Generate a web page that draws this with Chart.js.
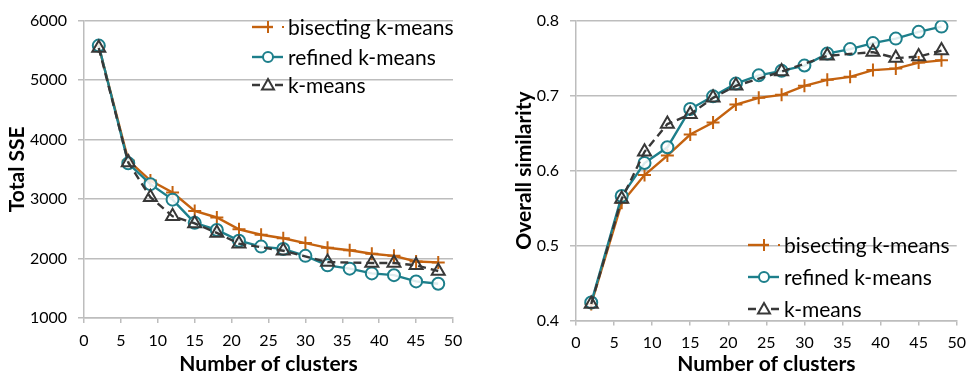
<!DOCTYPE html>
<html>
<head>
<meta charset="utf-8">
<script src="https://cdn.jsdelivr.net/npm/chart.js@4/dist/chart.umd.min.js"></script>
<style>
  html, body { margin: 0; padding: 0; background: #ffffff; }
  #wrap { width: 974px; height: 380px; display: flex; }
  canvas { display: block; }
</style>
</head>
<body>
<div id="wrap">
  <canvas id="left" width="487" height="380"></canvas>
  <canvas id="right" width="487" height="380"></canvas>
</div>
<script>
// ---- data ----
const seriesNames = ['bisecting k-means', 'refined k-means', 'k-means'];
const clusters = [2, 6, 9, 12, 15, 18, 21, 24, 27, 30, 33, 36, 39, 42, 45, 48];
const kmeansClusters = [2, 6, 9, 12, 15, 18, 21, 27, 33, 39, 42, 45, 48];

const sseBisecting = [5570, 3650, 3310, 3110, 2800, 2690, 2490, 2400, 2340, 2260, 2180, 2140, 2080, 2045, 1950, 1935];
const sseRefined   = [5580, 3600, 3250, 2990, 2600, 2480, 2300, 2200, 2160, 2045, 1885, 1830, 1750, 1720, 1615, 1575];
const sseKmeans    = [5540, 3615, 3030, 2710, 2590, 2430, 2250, 2130, 1940, 1925, 1925, 1885, 1790];

const simBisecting = [0.422, 0.557, 0.594, 0.620, 0.648, 0.664, 0.688, 0.697, 0.701, 0.713, 0.721, 0.725, 0.734, 0.736, 0.744, 0.747];
const simRefined   = [0.424, 0.566, 0.610, 0.631, 0.682, 0.699, 0.716, 0.727, 0.733, 0.740, 0.756, 0.762, 0.770, 0.776, 0.785, 0.792];
const simKmeans    = [0.422, 0.562, 0.625, 0.662, 0.675, 0.697, 0.713, 0.732, 0.753, 0.758, 0.750, 0.752, 0.760];

const xTicks = [0, 5, 10, 15, 20, 25, 30, 35, 40, 45, 50];
const sseTicks = [1000, 2000, 3000, 4000, 5000, 6000];
const simTicks = [0.4, 0.5, 0.6, 0.7, 0.8];

// ---- styles ----
const ORANGE = '#C4620F';
const TEAL = '#1D7F8B';
const GRAY = '#383838';
const GRID = '#BDBDBD';
const TEXT = '#000';
const FONT = 'Lato, "Open Sans", sans-serif';

Chart.defaults.font.family = FONT;
Chart.defaults.color = TEXT;

function pts(xs, ys) { return xs.map((x, i) => ({ x: x, y: ys[i] })); }

function datasets(b, r, k) {
  return [
    { label: seriesNames[0], data: pts(clusters, b), borderColor: ORANGE, backgroundColor: ORANGE,
      borderWidth: 2.4, pointStyle: 'cross', pointRadius: 6.5, pointBorderWidth: 2, pointBorderColor: ORANGE,
      order: 2, tension: 0 },
    { label: seriesNames[1], data: pts(clusters, r), borderColor: TEAL, backgroundColor: 'rgba(255,255,255,0)',
      borderWidth: 2.4, pointStyle: 'circle', pointRadius: 6, pointBorderWidth: 2, pointBorderColor: TEAL,
      pointBackgroundColor: 'rgba(255,255,255,0.85)', order: 1, tension: 0 },
    { label: seriesNames[2], data: pts(kmeansClusters, k), borderColor: GRAY, backgroundColor: 'rgba(0,0,0,0)',
      borderWidth: 2.4, borderDash: [8, 5], pointStyle: 'triangle', pointRadius: 7.5, pointBorderWidth: 2,
      pointBorderColor: GRAY, pointBackgroundColor: 'rgba(255,255,255,0)', order: 0, tension: 0 }
  ];
}

const legendPlugin = {
  id: 'insideLegend',
  afterDraw(chart, args, opts) {
    const ctx = chart.ctx;
    ctx.save();
    ctx.font = '21px ' + FONT;
    ctx.textBaseline = 'middle';
    const x0 = opts.x, cx = opts.x + 16, x1 = opts.x + 31;
    opts.ys.forEach((y, i) => {
      ctx.lineWidth = 2.4;
      ctx.setLineDash([]);
      if (i === 0) {
        ctx.strokeStyle = ORANGE;
        ctx.beginPath(); ctx.moveTo(x0, y); ctx.lineTo(x0 + 21, y); ctx.stroke();
        ctx.lineWidth = 2;
        ctx.beginPath(); ctx.moveTo(cx, y - 6); ctx.lineTo(cx, y + 6); ctx.stroke();
        ctx.fillStyle = ORANGE; ctx.fillRect(x1 - 1, y - 1, 2, 2);
      } else if (i === 1) {
        ctx.strokeStyle = TEAL;
        ctx.beginPath(); ctx.moveTo(x0, y); ctx.lineTo(x1, y); ctx.stroke();
        ctx.lineWidth = 2;
        ctx.fillStyle = '#fff';
        ctx.beginPath(); ctx.arc(cx, y, 5, 0, Math.PI * 2); ctx.fill(); ctx.stroke();
      } else {
        ctx.strokeStyle = GRAY;
        ctx.beginPath(); ctx.moveTo(x0, y); ctx.lineTo(x0 + 8, y); ctx.moveTo(x1 - 8, y); ctx.lineTo(x1, y); ctx.stroke();
        ctx.lineWidth = 2;
        ctx.fillStyle = '#fff';
        ctx.beginPath(); ctx.moveTo(cx, y - 6); ctx.lineTo(cx + 6, y + 4.5); ctx.lineTo(cx - 6, y + 4.5); ctx.closePath(); ctx.fill(); ctx.stroke();
      }
      ctx.fillStyle = TEXT;
      ctx.fillText(seriesNames[i], opts.x + 36, y + 1);
    });
    ctx.restore();
  }
};

function makeChart(id, data, cfg) {
  return new Chart(document.getElementById(id), {
    type: 'line',
    data: { datasets: data },
    plugins: [legendPlugin],
    options: {
      responsive: false,
      animation: false,
      devicePixelRatio: 1,
      layout: { padding: { top: cfg.padTop, right: cfg.padRight, left: 0, bottom: 0 } },
      plugins: {
        legend: { display: false },
        tooltip: { enabled: false },
        insideLegend: cfg.legend
      },
      scales: {
        x: {
          type: 'linear', min: 0, max: 50,
          afterBuildTicks: s => { s.ticks = xTicks.map(v => ({ value: v })); },
          grid: { drawOnChartArea: false, drawTicks: true, tickLength: 5, color: GRID, lineWidth: 1.5 },
          border: { display: true, color: GRID, width: 1.5 },
          ticks: { font: { size: 16 }, color: TEXT, padding: 8, maxRotation: 0 },
          title: { display: true, text: 'Number of clusters', font: { size: 21, weight: 'bold' }, color: TEXT, padding: { top: 0, bottom: 3 } },
          afterFit: s => { s.height = cfg.xHeight; }
        },
        y: {
          type: 'linear', min: cfg.yMin, max: cfg.yMax,
          afterBuildTicks: s => { s.ticks = cfg.yTicks.map(v => ({ value: v })); },
          grid: { color: GRID, lineWidth: 1.5, tickLength: 6, drawTicks: true },
          border: { display: true, color: GRID, width: 1.5 },
          ticks: { font: { size: 16 }, color: TEXT, padding: 11, callback: cfg.fmt },
          title: { display: true, text: cfg.yTitle, font: { size: 21, weight: 'bold' }, color: TEXT, padding: { top: cfg.yTitlePad, bottom: 0 } },
          afterFit: s => { s.width = cfg.yWidth; }
        }
      }
    }
  });
}

makeChart('left', datasets(sseBisecting, sseRefined, sseKmeans), {
  padTop: 10, padRight: 34, xHeight: 62, yWidth: 84, yMin: 1000, yMax: 6000, yTicks: sseTicks,
  fmt: v => String(v), yTitle: 'Total SSE', yTitlePad: 5,
  legend: { x: 252, ys: [27, 57, 85] }
});
makeChart('right', datasets(simBisecting, simRefined, simKmeans), {
  padTop: 9, padRight: 12, xHeight: 59.5, yWidth: 89, yMin: 0.4, yMax: 0.8, yTicks: simTicks,
  fmt: v => Number(v).toFixed(1), yTitle: 'Overall similarity', yTitlePad: 25,
  legend: { x: 261, ys: [245, 277, 309] }
});
</script>
</body>
</html>
